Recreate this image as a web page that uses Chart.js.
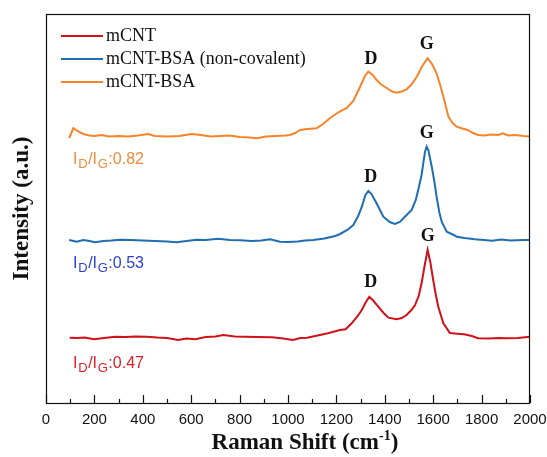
<!DOCTYPE html>
<html lang="en">
<head>
    <meta charset="UTF-8">
    <title>Raman spectra - mCNT samples</title>
    <script src="https://cdn.jsdelivr.net/npm/chart.js"></script>
    <style>
        body { margin: 0; padding: 0; background: #fff; }
        #wrap { width: 547px; height: 457px; }
    </style>
</head>
<body>
    <div id="wrap"><canvas id="chart" width="547" height="457"></canvas></div>

    <script>
        // Raman shift (cm-1) and intensity (a.u., offset stacked)
        const redShift = [98, 130, 160, 199, 240, 286, 330, 370, 416, 460, 500, 546, 580, 617, 660, 700, 733, 780, 819, 870, 934, 980, 1021, 1050, 1079, 1132, 1165, 1215, 1238, 1263, 1285, 1305, 1322, 1336, 1350, 1373, 1395, 1415, 1449, 1470, 1490, 1510, 1525, 1540, 1552, 1565, 1577, 1588, 1600, 1611, 1621, 1642, 1669, 1690, 1711, 1727, 1760, 1785, 1830, 1870, 1901, 1950, 2000];
        const redIntensity = [65.3, 65, 65.5, 63.7, 65, 66.3, 66, 66.5, 66.3, 65.5, 65, 63, 64.5, 63.7, 66, 66.5, 68, 66.5, 66.3, 66, 65.7, 64.5, 63, 65, 65.3, 68, 69.7, 73, 73.7, 79.7, 86, 93, 101, 106.3, 103, 96.3, 90, 85.3, 83.7, 85, 88, 93, 98, 107, 119.7, 138, 153, 141, 123, 108, 96.3, 79.7, 70, 69.5, 69, 68.7, 67, 64.7, 64.5, 65, 64.7, 65, 66.3];

        const blueShift = [96, 127, 154, 180, 202, 237, 270, 306, 350, 400, 450, 500, 540, 580, 623, 660, 712, 760, 802, 850, 890, 926, 967, 1000, 1040, 1070, 1105, 1150, 1195, 1215, 1245, 1270, 1290, 1305, 1320, 1332, 1345, 1366, 1394, 1420, 1442, 1462, 1483, 1511, 1528, 1538, 1552, 1559, 1566, 1573, 1580, 1594, 1605, 1614, 1625, 1635, 1656, 1685, 1697, 1730, 1771, 1810, 1843, 1880, 1920, 1973, 2000];
        const blueIntensity = [163, 161.3, 163, 162, 160.7, 162, 162.5, 163.3, 163, 162.5, 162, 161.5, 160.7, 162, 163.3, 163, 164.3, 163, 162.7, 162, 162.5, 163.7, 161.3, 161, 161.5, 162.5, 163, 164.5, 167, 169, 173, 178, 187, 196.3, 208, 212, 209, 199.7, 186.3, 181, 179, 181, 186.3, 193, 203, 213, 228, 239.7, 251, 256.3, 253, 236.3, 221, 206.3, 191, 181.3, 171.3, 168, 166.3, 165, 163.7, 163, 162.3, 163.5, 162.5, 163, 163];

        const orangeShift = [96, 113, 130, 154, 180, 200, 230, 260, 300, 340, 380, 422, 450, 500, 550, 602, 640, 680, 720, 760, 800, 840, 871, 910, 950, 990, 1008, 1030, 1050, 1080, 1118, 1145, 1174, 1210, 1243, 1270, 1298, 1318, 1332, 1350, 1366, 1385, 1408, 1430, 1449, 1470, 1490, 1510, 1532, 1555, 1577, 1595, 1614, 1630, 1642, 1663, 1680, 1697, 1720, 1743, 1765, 1785, 1810, 1840, 1870, 1887, 1910, 1940, 1973, 2000];
        const orangeIntensity = [265, 275, 272, 269, 267.5, 267, 268, 266.5, 267, 266.5, 267.5, 269, 267, 266.5, 267, 269, 268, 266.5, 267, 267.5, 266, 265.5, 264.7, 266.5, 267, 267.5, 268, 270, 273, 274, 274.7, 279, 285, 291, 295, 302, 316.3, 327, 331.3, 328, 323, 318.5, 315, 311.5, 310.3, 311.5, 313.7, 318.5, 326.3, 337, 344.7, 339, 329.7, 317, 306.3, 286.3, 280, 276.3, 274.5, 273, 270, 268, 267.5, 268.5, 268, 269.7, 267.5, 268, 267, 266.5];

        const seriesNames = ['mCNT', 'mCNT-BSA (non-covalent)', 'mCNT-BSA'];
        const lineColors = ['#cf111a', '#1f6db3', '#f5842a'];

        // D / G band labels: [text, shift, intensity]
        const bandLabels = [
            ['D', 1343, 343.7], ['G', 1573, 359],
            ['D', 1342, 225.3], ['G', 1573, 269.7],
            ['D', 1342, 120.3], ['G', 1577, 166.3]
        ];
        // I_D/I_G ratios: [value, shift, intensity of baseline], colour
        const ratioLabels = [['0.82', 112, 239.5], ['0.53', 112, 135], ['0.47', 112, 35]];
        const ratioColors = ['#f08a3c', '#2b3fd0', '#de1f26'];

        const xMin = 0, xMax = 2000, xStep = 200;
        const xTitle = ['Raman Shift (cm', '-1', ')'];

        function toPoints(xs, ys) {
            return xs.map((v, i) => ({ x: v, y: ys[i] }));
        }

        function drawRuns(ctx, runs, x0, y0, gap) {
            // runs: [text, font, dy]
            let cx = x0;
            runs.forEach(([t, f, dy]) => {
                ctx.font = f;
                ctx.fillText(t, cx, y0 + dy);
                cx += ctx.measureText(t).width + gap;
            });
        }

        function runsWidth(ctx, runs, gap) {
            let w = 0;
            runs.forEach(([t, f]) => { ctx.font = f; w += ctx.measureText(t).width + gap; });
            return w - gap;
        }

        const overlay = {
            id: 'overlay',
            afterDatasetsDraw(chart) {
                const { ctx, chartArea: a, scales: { x, y } } = chart;
                ctx.save();

                // frame
                ctx.strokeStyle = '#111';
                ctx.lineWidth = 1.2;
                ctx.strokeRect(a.left + 0.5, a.top + 0.5, a.right - a.left - 1, a.bottom - a.top);

                // inward ticks, major + minor
                x.ticks.forEach(t => {
                    const px = Math.round(x.getPixelForValue(t.value)) + 0.5;
                    ctx.beginPath();
                    ctx.moveTo(px, a.bottom);
                    ctx.lineTo(px, a.bottom - 8);
                    ctx.stroke();
                    const mid = t.value + xStep / 2;
                    if (mid < xMax) {
                        const pm = Math.round(x.getPixelForValue(mid)) + 0.5;
                        ctx.beginPath();
                        ctx.moveTo(pm, a.bottom);
                        ctx.lineTo(pm, a.bottom - 4);
                        ctx.stroke();
                    }
                });

                // legend
                ctx.font = '18px "Liberation Serif", "Times New Roman", serif';
                ctx.textAlign = 'left';
                ctx.textBaseline = 'middle';
                seriesNames.forEach((name, i) => {
                    const ly = a.top + 22 + i * 23;
                    ctx.strokeStyle = lineColors[i];
                    ctx.lineWidth = 2;
                    ctx.beginPath();
                    ctx.moveTo(a.left + 15, ly);
                    ctx.lineTo(a.left + 57, ly);
                    ctx.stroke();
                    ctx.fillStyle = '#111';
                    ctx.fillText(name, a.left + 60, ly);
                });

                // band labels
                ctx.font = 'bold 18px "Liberation Serif", "Times New Roman", serif';
                ctx.textAlign = 'center';
                bandLabels.forEach(([t, sx, sy]) => {
                    ctx.fillText(t, x.getPixelForValue(sx), y.getPixelForValue(sy));
                });

                // ID/IG ratios
                ctx.textAlign = 'left';
                ctx.textBaseline = 'alphabetic';
                const big = '16px "Liberation Sans", Arial, sans-serif';
                const small = '13px "Liberation Sans", Arial, sans-serif';
                ratioLabels.forEach(([val, sx, sy], i) => {
                    ctx.fillStyle = ratioColors[i];
                    const runs = [['I', big, 0], ['D', small, 4], ['/I', big, 0], ['G', small, 4], [':' + val, big, 0]];
                    drawRuns(ctx, runs, x.getPixelForValue(sx), y.getPixelForValue(sy), 0.6);
                });

                // x axis title with superscript
                ctx.fillStyle = '#111';
                const tf = 'bold 23px "Liberation Serif", "Times New Roman", serif';
                const sf = 'bold 14px "Liberation Serif", "Times New Roman", serif';
                const titleRuns = [[xTitle[0], tf, 0], [xTitle[1], sf, -9], [xTitle[2], tf, 0]];
                const tw = runsWidth(ctx, titleRuns, 0);
                const tcx = x.getPixelForValue(1070);
                drawRuns(ctx, titleRuns, tcx - tw / 2, 449, 0);

                ctx.restore();
            }
        };

        const ctx = document.getElementById('chart').getContext('2d');
        const chart = new Chart(ctx, {
            type: 'line',
            data: {
                datasets: [
                    { label: seriesNames[0], data: toPoints(redShift, redIntensity), borderColor: lineColors[0] },
                    { label: seriesNames[1], data: toPoints(blueShift, blueIntensity), borderColor: lineColors[1] },
                    { label: seriesNames[2], data: toPoints(orangeShift, orangeIntensity), borderColor: lineColors[2] }
                ]
            },
            options: {
                responsive: false,
                animation: false,
                devicePixelRatio: 1,
                layout: { padding: { top: 14, right: 17, left: 0, bottom: 0 } },
                elements: {
                    line: { borderWidth: 2, tension: 0 },
                    point: { radius: 0 }
                },
                plugins: {
                    legend: { display: false },
                    tooltip: { enabled: false }
                },
                scales: {
                    x: {
                        type: 'linear',
                        min: xMin,
                        max: xMax,
                        grid: { display: false },
                        border: { display: false },
                        ticks: {
                            stepSize: xStep,
                            maxRotation: 0,
                            autoSkip: false,
                            padding: 0,
                            color: '#111',
                            font: { family: '"Liberation Sans", Arial, sans-serif', size: 15 },
                            callback: v => String(v)
                        },
                        title: { display: false },
                        afterFit: s => { s.height = 54; }
                    },
                    y: {
                        min: 0,
                        max: 389,
                        grid: { display: false },
                        border: { display: false },
                        ticks: { display: false },
                        title: {
                            display: true,
                            text: 'Intensity (a.u.)',
                            color: '#111',
                            padding: { top: 8, bottom: 0 },
                            font: { family: '"Liberation Serif", "Times New Roman", serif', size: 23, weight: 'bold' }
                        },
                        afterFit: s => { s.width = 46; }
                    }
                }
            },
            plugins: [overlay]
        });
    </script>
</body>
</html>
